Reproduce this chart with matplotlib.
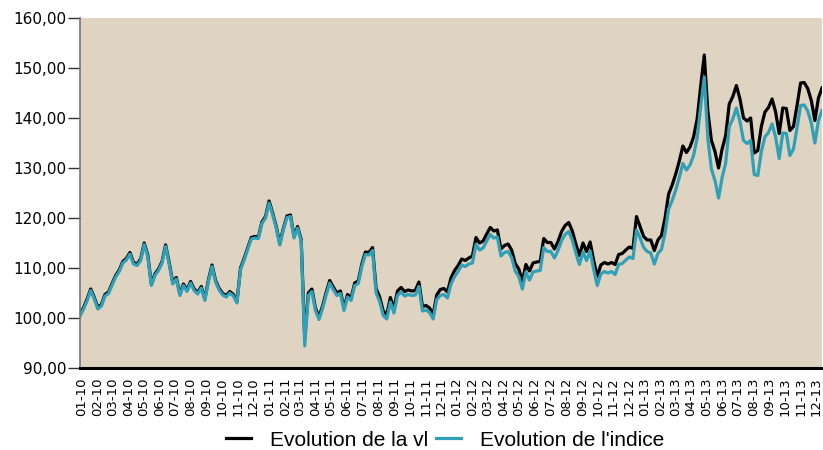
import matplotlib
matplotlib.use("Agg")
import matplotlib.pyplot as plt
import matplotlib.dates as mdates
from matplotlib.ticker import FuncFormatter
import pandas as pd

# valeurs hebdomadaires (base 100 au 01-2010)
indice = [
    100.4, 101.8, 103.5, 105.5, 103.8, 101.8, 102.4, 104.4, 104.9, 106.6,
    108.2, 109.3, 111.0, 111.6, 112.8, 110.8, 110.5, 111.5, 114.7, 112.3,
    106.5, 108.5, 109.5, 111.0, 114.3, 110.8, 106.8, 107.8, 104.5, 106.5,
    105.3, 107.0, 105.5, 104.8, 106.0, 103.5, 107.3, 110.3, 107.2, 105.6,
    104.6, 104.2, 105.0, 104.4, 103.0, 109.7, 111.6, 113.7, 115.8, 116.0,
    115.9, 118.9, 120.0, 123.0, 120.7, 118.0, 114.6, 117.6, 120.1, 120.3,
    116.0, 118.0, 115.4, 94.4, 104.5, 105.3, 101.5, 99.7, 101.9, 104.6,
    107.0, 105.7, 104.5, 104.9, 101.5, 104.2, 103.5, 106.5, 106.9, 110.3,
    112.7, 112.6, 113.5, 105.0, 103.3, 100.5, 99.8, 103.2, 101.0, 104.5,
    105.2, 104.4, 104.7, 104.5, 104.6, 106.3, 101.4, 101.6, 101.1, 99.8,
    103.7, 104.5, 104.7, 104.0, 106.8, 108.3, 109.3, 110.6, 110.3, 110.8,
    111.0, 114.7, 113.6, 114.0, 115.4, 116.7, 116.0, 116.2, 112.4, 113.1,
    113.3, 112.1, 109.4, 108.3, 105.8, 109.2, 107.6, 109.2, 109.4, 109.5,
    114.1, 113.3, 113.3, 112.0, 113.5, 115.5, 116.7, 117.3, 115.6, 113.0,
    110.7, 113.2, 111.5, 113.4, 109.7, 106.5, 108.8, 109.3, 109.0, 109.3,
    108.7, 110.7, 110.9, 111.6, 112.2, 111.9, 117.6, 116.0, 114.1, 113.3,
    113.0, 110.8, 112.9, 113.7, 117.0, 121.8, 123.5, 125.6, 128.1, 130.9,
    129.6, 130.6, 132.5, 136.0, 142.3, 148.2, 135.8, 129.8, 127.5, 124.0,
    128.1, 131.0, 138.3, 139.8, 142.0, 139.3, 135.5, 134.9, 135.5, 128.7,
    128.5, 133.3, 136.2, 137.1, 138.8, 136.2, 131.9, 137.0, 136.9, 132.5,
    133.8, 138.0, 142.5, 142.6, 141.4, 139.0, 135.0, 139.5, 141.5,
]

vl = [
    100.7, 102.1, 103.8, 105.8, 104.1, 102.1, 102.7, 104.7, 105.2, 106.9,
    108.5, 109.6, 111.3, 111.9, 113.1, 111.1, 110.8, 111.8, 115.0, 112.6,
    106.8, 108.8, 109.8, 111.3, 114.6, 111.1, 107.1, 108.1, 104.8, 106.8,
    105.6, 107.3, 105.8, 105.1, 106.3, 103.8, 107.6, 110.6, 107.5, 105.9,
    104.9, 104.5, 105.3, 104.7, 103.3, 110.0, 111.9, 114.0, 116.1, 116.3,
    116.2, 119.2, 120.3, 123.4, 121.0, 118.3, 114.9, 117.9, 120.4, 120.6,
    116.3, 118.3, 115.7, 96.0, 105.0, 105.8, 102.0, 100.2, 102.4, 105.1,
    107.5, 106.2, 105.0, 105.4, 102.0, 104.7, 104.0, 107.0, 107.4, 110.8,
    113.2, 113.1, 114.1, 105.9, 104.2, 101.4, 100.7, 104.1, 101.9, 105.4,
    106.1, 105.3, 105.6, 105.4, 105.5, 107.2, 102.3, 102.5, 102.0, 100.7,
    104.6, 105.7, 105.9, 105.2, 108.0, 109.5, 110.5, 111.8, 111.5, 112.0,
    112.4, 116.1, 115.0, 115.4, 116.8, 118.1, 117.4, 117.6, 113.8, 114.5,
    114.8, 113.6, 110.9, 109.8, 107.3, 110.7, 109.4, 111.0, 111.2, 111.3,
    115.9, 115.1, 115.1, 113.8, 115.3, 117.3, 118.5, 119.1, 117.4, 114.8,
    112.5, 115.0, 113.3, 115.2, 111.5, 108.3, 110.6, 111.1, 110.8, 111.1,
    110.7, 112.7, 112.9, 113.6, 114.2, 113.9, 120.3, 118.3, 116.3, 115.6,
    115.6, 113.5, 115.6, 116.5, 120.0, 124.8, 126.6, 128.8, 131.4, 134.4,
    133.1, 134.2, 136.2, 139.8, 146.4, 152.6, 141.3, 135.5, 133.3, 130.0,
    133.8, 136.5, 142.8, 144.3, 146.5, 143.8, 140.0, 139.4, 140.0, 133.0,
    133.5, 138.3, 141.2, 142.1, 143.8, 141.2, 136.9, 142.0, 141.9, 137.5,
    138.3, 142.5, 147.0, 147.1, 145.9, 143.5, 139.5, 144.0, 146.0,
]

debut = pd.Timestamp("2009-12-28")
fin = pd.Timestamp("2013-12-12")
dates = pd.date_range(debut, fin, periods=len(indice))

fig = plt.figure(figsize=(8.23, 4.5), dpi=100)
ax = fig.add_axes([80 / 823, 1 - 368 / 450, 742 / 823, 350 / 450])
ax.set_facecolor("#dfd3c2")

ax.plot(dates, vl, color="black", lw=2.3, label="Evolution de la vl")
ax.plot(dates, indice, color="#30a0b6", lw=2.3, label="Evolution de l'indice")

ax.set_ylim(90, 160)
ax.set_yticks(range(90, 161, 10))
ax.yaxis.set_major_formatter(FuncFormatter(lambda v, p: f"{v:.2f}".replace(".", ",")))
ax.set_xlim(debut, fin)
ax.xaxis.set_major_locator(mdates.MonthLocator())
ax.xaxis.set_major_formatter(mdates.DateFormatter("%m-%y"))

ax.tick_params(axis="y", length=9, width=1, color="#333333", labelsize=11, pad=1)
ax.tick_params(axis="x", length=0, labelsize=9.5, pad=7, labelrotation=90)

for s in ["top", "right"]:
    ax.spines[s].set_visible(False)
ax.spines["left"].set_color("#777777")
ax.spines["left"].set_linewidth(1.2)
ax.spines["bottom"].set_color("black")
ax.spines["bottom"].set_linewidth(2.2)

leg = fig.legend(loc="center", bbox_to_anchor=(445 / 823, 1 - 440 / 450), ncol=2,
                 frameon=False, prop={"family": "Liberation Sans", "size": 15},
                 handlelength=1.2, handletextpad=0.9, columnspacing=0.4)

fig.savefig("out.png", dpi=100)
